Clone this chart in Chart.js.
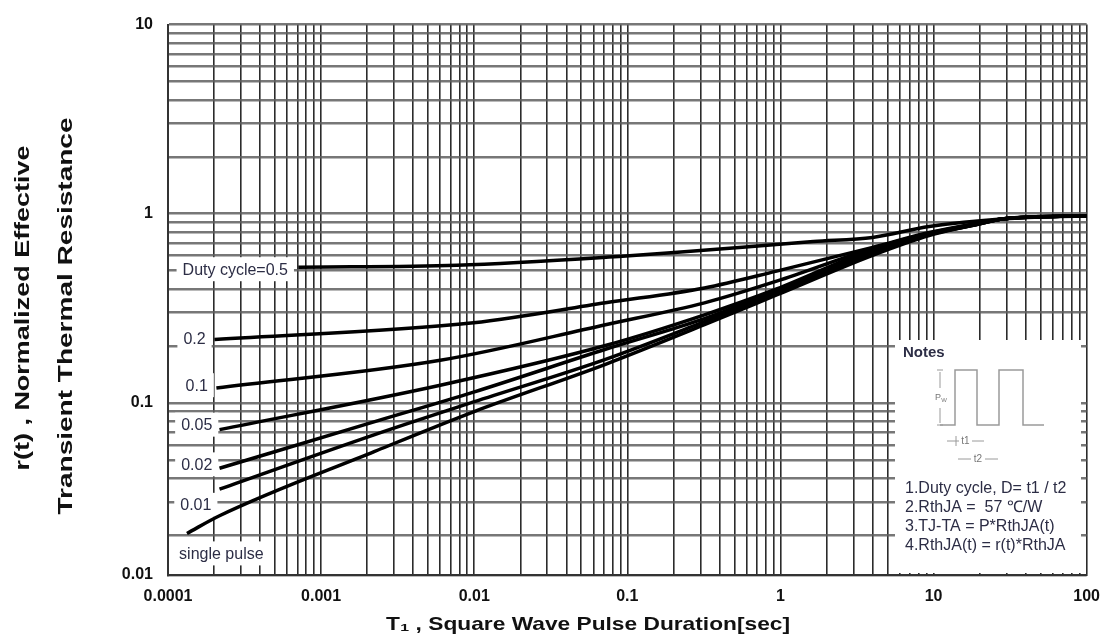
<!DOCTYPE html>
<html>
<head>
<meta charset="utf-8">
<script src="https://cdn.jsdelivr.net/npm/chart.js@4.4.1/dist/chart.umd.min.js"></script>
<style>
  html, body { margin: 0; padding: 0; background: #fff; }
  #wrap { width: 1112px; height: 637px; }
</style>
</head>
<body>
<div id="wrap"><canvas id="thermalChart" width="1112" height="637"></canvas></div>
<script>
// pulse duration [sec] and normalized r(t), one pair per duty cycle
const tD50 = [7.1e-4, 7.7e-3, 0.093, 0.213, 1.64, 4.0, 9.35, 29, 100];
const rD50 = [0.521, 0.534, 0.596, 0.625, 0.713, 0.749, 0.855, 0.94, 0.976];

const tD20 = [2.01e-4, 9.9e-3, 0.072, 0.319, 0.944, 4.0, 9.35, 17.7, 29, 100];
const rD20 = [0.216, 0.265, 0.338, 0.405, 0.497, 0.664, 0.795, 0.88, 0.94, 0.976];

const tD10 = [2.07e-4, 6.0e-3, 0.072, 0.319, 0.944, 4.0, 9.35, 17.7, 29, 100];
const rD10 = [0.120, 0.168, 0.259, 0.338, 0.44, 0.656, 0.79, 0.875, 0.94, 0.976];

const tD05 = [2.17e-4, 6.0e-3, 0.072, 0.319, 0.944, 4.0, 9.35, 17.7, 29, 100];
const rD05 = [0.0722, 0.124, 0.201, 0.292, 0.400, 0.648, 0.785, 0.87, 0.94, 0.976];

const tLow = [2.17e-4, 2.24e-3, 9.9e-3, 0.072, 0.319, 0.944, 4.0, 9.35, 17.7, 29, 100];
const rD02 = [0.0451, 0.0796, 0.114, 0.192, 0.279, 0.391, 0.632, 0.78, 0.865, 0.94, 0.976];
const rD01 = [0.035, 0.068, 0.1012, 0.170, 0.269, 0.381, 0.617, 0.775, 0.865, 0.94, 0.976];

const tSingle = [1.33e-4, 2.17e-4, 2.24e-3, 9.9e-3, 0.072, 0.319, 0.944, 4.0, 9.35, 17.7, 29, 100];
const rSingle = [0.0204, 0.0253, 0.0554, 0.0897, 0.160, 0.259, 0.372, 0.603, 0.767, 0.865, 0.94, 0.976];

// curve labels and where they sit (data units)
const curveLabels = ['Duty cycle=0.5', '0.2', '0.1', '0.05', '0.02', '0.01', 'single pulse'];
const labelT = [2.75e-4, 1.49e-4, 1.54e-4, 1.54e-4, 1.54e-4, 1.52e-4, 2.23e-4];
const labelR = [0.509, 0.219, 0.124, 0.0767, 0.0473, 0.0289, 0.016];

// axes
const xMin = 1e-4, xMax = 100;
const yMin = 0.0123, yMax = 10;
const xTickValues = [0.0001, 0.001, 0.01, 0.1, 1, 10, 100];
const xTickLabels = ['0.0001', '0.001', '0.01', '0.1', '1', '10', '100'];
const yTickValues = [0.0123, 0.1, 1, 10];
const yTickLabels = ['0.01', '0.1', '1', '10'];

const notesLines = ['1.Duty cycle, D= t1 / t2', '2.RthJA =  57 \u2103/W', '3.TJ-TA = P*RthJA(t)', '4.RthJA(t) = r(t)*RthJA'];

const FONT = "'Liberation Sans', Arial, sans-serif";
const LABEL_COLOR = '#2c2d45';

// 1..9 x 10^n between min and max
function logGrid(min, max) {
    const out = [min];
    for (let e = Math.floor(Math.log10(min)); e <= Math.ceil(Math.log10(max)); e++) {
        for (let m = 1; m <= 9; m++) {
            const v = m * Math.pow(10, e);
            if (v > min * 1.0001 && v < max * 0.9999) out.push(v);
        }
    }
    out.push(max);
    return out;
}

function tickText(values, labels, v) {
    const i = values.findIndex(t => Math.abs(Math.log10(t) - Math.log10(v)) < 1e-4);
    return i < 0 ? '' : labels[i];
}

function toPoints(ts, rs) {
    return ts.map((t, i) => ({ x: t, y: rs[i] }));
}

// text squeezed / stretched to a given width
function drawFit(ctx, text, cx, cy, width, rotate) {
    ctx.save();
    ctx.translate(cx, cy);
    if (rotate) ctx.rotate(-Math.PI / 2);
    const w = ctx.measureText(text).width;
    ctx.scale(width / w, 1);
    ctx.textAlign = 'center';
    ctx.textBaseline = 'middle';
    ctx.fillText(text, 0, 0);
    ctx.restore();
}

const decorPlugin = {
    id: 'decor',
    beforeDatasetsDraw(chart) {
        const ctx = chart.ctx;
        const xs = chart.scales.x, ys = chart.scales.y;

        // curve labels on white patches
        ctx.save();
        ctx.font = '16px ' + FONT;
        curveLabels.forEach((txt, i) => {
            const cx = xs.getPixelForValue(labelT[i]);
            const cy = ys.getPixelForValue(labelR[i]);
            const w = ctx.measureText(txt).width;
            ctx.fillStyle = '#fff';
            ctx.fillRect(cx - w / 2 - 6, cy - 12, w + 12, 24);
            ctx.fillStyle = LABEL_COLOR;
            ctx.textAlign = 'center';
            ctx.textBaseline = 'middle';
            ctx.fillText(txt, cx, cy + 1);
        });
        ctx.restore();

        // Notes box
        ctx.save();
        ctx.fillStyle = '#fff';
        ctx.fillRect(895, 340, 186, 233);
        ctx.fillStyle = LABEL_COLOR;
        ctx.font = 'bold 15px ' + FONT;
        ctx.textBaseline = 'middle';
        ctx.fillText('Notes', 903, 353);

        // pulse sketch
        ctx.strokeStyle = '#9a9a9a';
        ctx.lineWidth = 1.5;
        ctx.beginPath();
        ctx.moveTo(940, 425);
        ctx.lineTo(955, 425); ctx.lineTo(955, 370); ctx.lineTo(977, 370); ctx.lineTo(977, 425);
        ctx.lineTo(999, 425); ctx.lineTo(999, 370); ctx.lineTo(1023, 370); ctx.lineTo(1023, 425);
        ctx.lineTo(1044, 425);
        ctx.stroke();
        ctx.lineWidth = 1;
        ctx.beginPath();
        ctx.moveTo(937, 370); ctx.lineTo(943, 370);
        ctx.moveTo(940, 372); ctx.lineTo(940, 388);
        ctx.moveTo(940, 408); ctx.lineTo(940, 423);
        ctx.moveTo(937, 425); ctx.lineTo(943, 425);
        ctx.moveTo(947, 441); ctx.lineTo(959, 441);
        ctx.moveTo(972, 441); ctx.lineTo(984, 441);
        ctx.moveTo(956, 436); ctx.lineTo(956, 446);
        ctx.moveTo(958, 459); ctx.lineTo(971, 459);
        ctx.moveTo(985, 459); ctx.lineTo(998, 459);
        ctx.stroke();
        ctx.fillStyle = '#777';
        ctx.font = '9px ' + FONT;
        ctx.textAlign = 'center';
        ctx.fillText('P', 938, 398);
        ctx.font = '6px ' + FONT;
        ctx.fillText('W', 944, 400);
        ctx.font = '10px ' + FONT;
        ctx.fillText('t1', 965.5, 441);
        ctx.fillText('t2', 978, 459);

        ctx.fillStyle = LABEL_COLOR;
        ctx.font = '16px ' + FONT;
        ctx.textAlign = 'left';
        notesLines.forEach((line, i) => {
            ctx.fillText(line, 905, 489 + i * 18.7);
        });
        ctx.restore();
    },
    afterDraw(chart) {
        const ctx = chart.ctx;
        ctx.save();
        ctx.fillStyle = '#111';
        ctx.font = 'bold 19px ' + FONT;
        drawFit(ctx, 'T\u2081 , Square Wave Pulse Duration[sec]', 588, 625, 404, false);
        ctx.font = 'bold 20px ' + FONT;
        drawFit(ctx, 'r(t) , Normalized Effective', 23, 308, 325, true);
        drawFit(ctx, 'Transient Thermal Resistance', 66, 316, 397, true);
        ctx.restore();
    }
};

const lineStyle = {
    borderColor: '#000',
    borderWidth: 3.5,
    pointRadius: 0,
    fill: false,
    cubicInterpolationMode: 'monotone'
};

const ctxt = document.getElementById('thermalChart').getContext('2d');
new Chart(ctxt, {
    type: 'line',
    data: {
        datasets: [
            { label: curveLabels[0], data: toPoints(tD50, rD50), ...lineStyle },
            { label: curveLabels[1], data: toPoints(tD20, rD20), ...lineStyle },
            { label: curveLabels[2], data: toPoints(tD10, rD10), ...lineStyle },
            { label: curveLabels[3], data: toPoints(tD05, rD05), ...lineStyle },
            { label: curveLabels[4], data: toPoints(tLow, rD02), ...lineStyle },
            { label: curveLabels[5], data: toPoints(tLow, rD01), ...lineStyle },
            { label: curveLabels[6], data: toPoints(tSingle, rSingle), ...lineStyle }
        ]
    },
    options: {
        responsive: false,
        animation: false,
        layout: { padding: { top: 19, right: 17, left: 0, bottom: 0 } },
        plugins: {
            legend: { display: false },
            tooltip: { enabled: false }
        },
        scales: {
            x: {
                type: 'logarithmic',
                min: xMin,
                max: xMax,
                afterBuildTicks: s => { s.ticks = logGrid(xMin, xMax).map(v => ({ value: v })); },
                afterFit: s => { s.height = 62; },
                ticks: {
                    autoSkip: false,
                    maxRotation: 0,
                    padding: 12,
                    color: '#111',
                    font: { family: FONT, size: 16, weight: 'bold' },
                    callback: v => tickText(xTickValues, xTickLabels, v)
                },
                grid: { color: '#2b2b2b', lineWidth: 1.6, drawTicks: false },
                border: { display: true, color: '#333', width: 2 }
            },
            y: {
                type: 'logarithmic',
                min: yMin,
                max: yMax,
                afterBuildTicks: s => { s.ticks = logGrid(yMin, yMax).map(v => ({ value: v })); },
                afterFit: s => { s.width = 168; },
                ticks: {
                    autoSkip: false,
                    padding: 15,
                    color: '#111',
                    font: { family: FONT, size: 16, weight: 'bold' },
                    callback: v => tickText(yTickValues, yTickLabels, v)
                },
                grid: { color: 'rgba(95,95,95,0.85)', lineWidth: 2.5, drawTicks: false },
                border: { display: true, color: '#333', width: 2 }
            }
        }
    },
    plugins: [decorPlugin]
});
</script>
</body>
</html>
